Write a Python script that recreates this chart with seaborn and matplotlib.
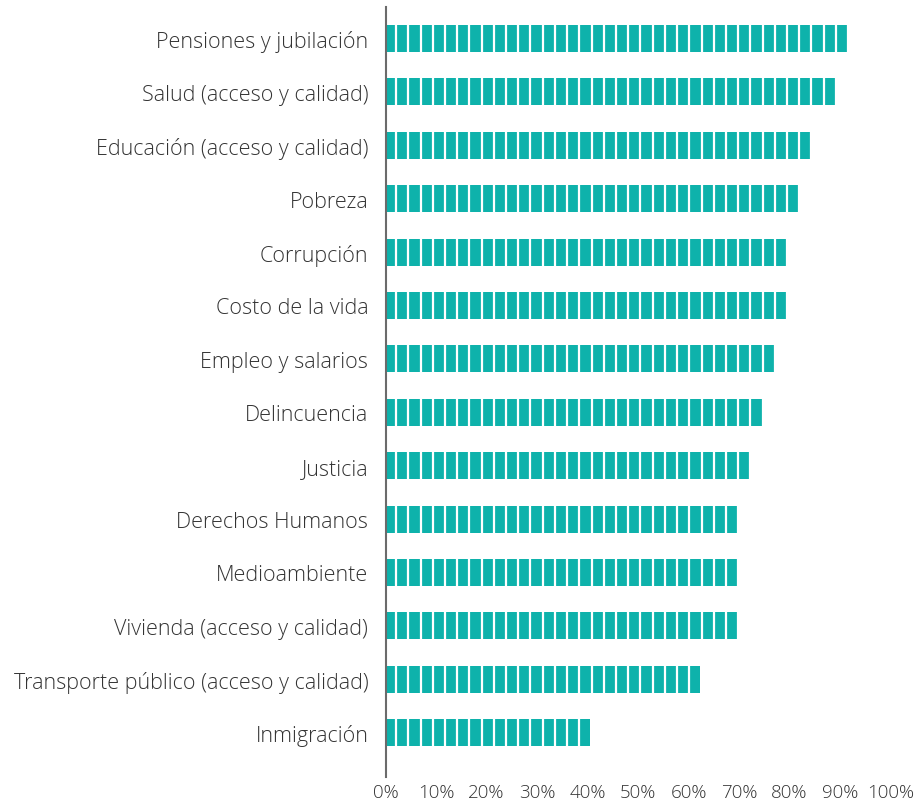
import numpy as np
import pandas as pd
import matplotlib.pyplot as plt
import seaborn as sns

# Topics and share of respondents (%)
categories = [
    "Pensiones y jubilación",
    "Salud (acceso y calidad)",
    "Educación (acceso y calidad)",
    "Pobreza",
    "Corrupción",
    "Costo de la vida",
    "Empleo y salarios",
    "Delincuencia",
    "Justicia",
    "Derechos Humanos",
    "Medioambiente",
    "Vivienda (acceso y calidad)",
    "Transporte público (acceso y calidad)",
    "Inmigración",
]
values = [91.4, 89.0, 84.3, 81.7, 79.3, 79.3, 76.9, 74.5, 72.2, 69.6, 69.6, 69.6, 62.3, 40.5]
tick_values = [0, 10, 20, 30, 40, 50, 60, 70, 80, 90, 100]
tick_labels = [f"{t}%" for t in tick_values]

df = pd.DataFrame({"tema": categories, "pct": values})

sns.set_style("white")
plt.rcParams['font.family'] = ['Open Sans', 'DejaVu Sans']

bar_color = '#0eb2ab'
text_color = '#333333'

fig = plt.figure(figsize=(9.18, 8.04), dpi=100)
ax = fig.add_axes([385.7 / 918, 26 / 804, 504.8 / 918, 770 / 804])

sns.barplot(data=df, x="pct", y="tema", orient="h", color=bar_color,
            saturation=1, width=0.506, linewidth=0, ax=ax)

# white slits that cut the bars into blocks
seg = 2.42
slits = 1.842 + 0.218 + seg * np.arange(0, 42)
ax.vlines(slits, -1, 15, color='white', lw=1.6, zorder=2)

ax.set_xlim(0, 100)
ax.set_ylim(13.83, -0.59)
ax.set_xticks(tick_values)
ax.set_xticklabels(tick_labels)
ax.set_xlabel("")
ax.set_ylabel("")

for side in ['top', 'right', 'bottom']:
    ax.spines[side].set_visible(False)
ax.spines['left'].set_color('#6b6b6b')
ax.spines['left'].set_linewidth(1.5)
ax.spines['left'].set_zorder(3)

ax.tick_params(axis='y', length=0, pad=12.5, labelsize=15.5, labelcolor=text_color)
ax.tick_params(axis='x', length=0, pad=4, labelsize=13.5, labelcolor=text_color)
for lbl in ax.get_yticklabels() + ax.get_xticklabels():
    lbl.set_fontweight(300)

plt.savefig('out.png', dpi=100)
